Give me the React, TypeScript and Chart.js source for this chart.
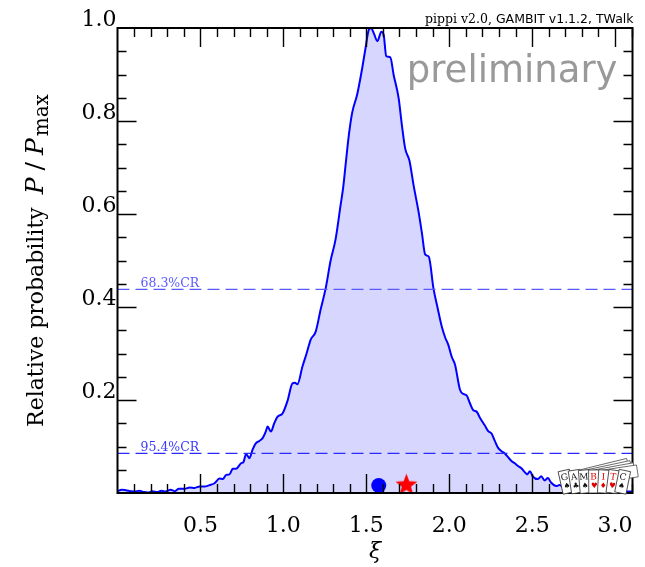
import React, { useEffect, useRef } from 'react';
import { Chart, registerables } from 'chart.js';
Chart.register(...registerables);

// ---- data ----
const XI = [
  0.000, 0.025, 0.050, 0.080, 0.105, 0.130, 0.160, 0.185, 0.210, 0.240,
  0.265, 0.290, 0.320, 0.345, 0.370, 0.405, 0.435, 0.465, 0.495, 0.525,
  0.555, 0.585, 0.615, 0.635, 0.655, 0.675, 0.695, 0.715, 0.745, 0.760,
  0.775, 0.795, 0.815, 0.835, 0.855, 0.875, 0.895, 0.905, 0.925, 0.945,
  0.965, 0.995, 1.025, 1.055, 1.070, 1.085, 1.115, 1.140, 1.165, 1.195,
  1.225, 1.255, 1.285, 1.315, 1.345, 1.360, 1.375, 1.395, 1.415, 1.445,
  1.475, 1.495, 1.515, 1.529, 1.545, 1.567, 1.591, 1.605, 1.620, 1.645,
  1.665, 1.695, 1.715, 1.735, 1.760, 1.785, 1.815, 1.835, 1.855, 1.877,
  1.905, 1.930, 1.955, 1.975, 1.995, 2.015, 2.035, 2.065, 2.085, 2.105,
  2.125, 2.145, 2.165, 2.185, 2.215, 2.235, 2.255, 2.275, 2.295, 2.315,
  2.335, 2.355, 2.375, 2.395, 2.415, 2.435, 2.455, 2.470, 2.487, 2.505,
  2.535, 2.555, 2.575, 2.595, 2.615, 2.645, 2.665, 2.695, 2.725, 2.760,
  2.800, 2.850, 2.900, 2.950, 3.000, 3.050, 3.105,
];
const PROB = [
  0.004, 0.007, 0.006, 0.004, 0.003, 0.005, 0.002, 0.001, 0.004, 0.002,
  0.005, 0.003, 0.007, 0.004, 0.009, 0.009, 0.012, 0.011, 0.014, 0.014,
  0.017, 0.021, 0.031, 0.030, 0.039, 0.040, 0.052, 0.052, 0.064, 0.067,
  0.084, 0.075, 0.094, 0.107, 0.112, 0.118, 0.133, 0.143, 0.132, 0.150,
  0.164, 0.171, 0.198, 0.236, 0.237, 0.234, 0.272, 0.300, 0.330, 0.347,
  0.395, 0.440, 0.500, 0.546, 0.619, 0.655, 0.705, 0.770, 0.818, 0.857,
  0.913, 0.956, 0.996, 1.000, 0.989, 0.972, 0.992, 0.985, 0.940, 0.937,
  0.899, 0.849, 0.790, 0.740, 0.715, 0.662, 0.605, 0.560, 0.513, 0.508,
  0.440, 0.398, 0.358, 0.335, 0.318, 0.293, 0.276, 0.222, 0.213, 0.210,
  0.193, 0.178, 0.175, 0.162, 0.145, 0.133, 0.128, 0.112, 0.097, 0.090,
  0.085, 0.077, 0.069, 0.064, 0.058, 0.053, 0.045, 0.040, 0.047, 0.035,
  0.030, 0.036, 0.027, 0.032, 0.022, 0.015, 0.017, 0.011, 0.011, 0.009,
  0.008, 0.007, 0.006, 0.005, 0.004, 0.003, 0.003,
];
const X_RANGE = [0, 3.105];
const Y_RANGE = [0, 1.0];
const X_TICK_LABELS = [0.5, 1.0, 1.5, 2.0, 2.5, 3.0];
const Y_TICK_LABELS = [0.2, 0.4, 0.6, 0.8, 1.0];
const CR_LEVELS = [0.438, 0.0854];
const CR_LABELS = ['68.3%CR', '95.4%CR'];
const POSTERIOR_MEAN = [1.575, 0.016];
const BEST_FIT = [1.742, 0.019];
const CARD_LETTERS = ['G', 'A', 'M', 'B', 'I', 'T', 'C'];
const CARD_SUITS = ['♠', '♣', '♠', '♥', '♦', '♥', '♠'];
const CARD_RED = [false, false, false, true, true, true, false];

const SERIF = '"DejaVu Serif", serif';
const SANS = '"DejaVu Sans", sans-serif';

function makeStar(r: number, color: string) {
  const c = document.createElement('canvas');
  const size = Math.ceil(r * 2 + 2);
  c.width = size;
  c.height = size;
  const ctx = c.getContext('2d')!;
  ctx.fillStyle = color;
  ctx.beginPath();
  for (let i = 0; i < 10; i++) {
    const rad = i % 2 === 0 ? r : r * 0.42;
    const a = -Math.PI / 2 + (i * Math.PI) / 5;
    const x = size / 2 + rad * Math.cos(a);
    const y = size / 2 + 1 + rad * Math.sin(a);
    if (i === 0) ctx.moveTo(x, y);
    else ctx.lineTo(x, y);
  }
  ctx.closePath();
  ctx.fill();
  return c;
}

function drawLogo(ctx: CanvasRenderingContext2D, left: number, bottom: number) {
  ctx.save();
  ctx.lineWidth = 0.8;
  // back fanned cards
  for (let k = 0; k < 4; k++) {
    ctx.save();
    ctx.translate(left + 42 + k * 3, bottom - 24 + k * 1.5);
    ctx.rotate(-0.24 + k * 0.03);
    ctx.fillStyle = '#ffffff';
    ctx.strokeStyle = '#555';
    ctx.beginPath();
    ctx.rect(-24, -5, 48, 12);
    ctx.fill();
    ctx.stroke();
    ctx.restore();
  }
  // front cards
  for (let i = 0; i < CARD_LETTERS.length; i++) {
    ctx.save();
    ctx.translate(left + 6 + i * 8.6, bottom);
    ctx.rotate(-0.22 + i * 0.07);
    ctx.fillStyle = '#ffffff';
    ctx.strokeStyle = '#333';
    ctx.beginPath();
    ctx.rect(-5.5, -23, 11.5, 23);
    ctx.fill();
    ctx.stroke();
    const col = CARD_RED[i] ? '#e00000' : '#111';
    ctx.fillStyle = col;
    ctx.textAlign = 'center';
    ctx.textBaseline = 'alphabetic';
    ctx.font = `9px ${SERIF}`;
    ctx.fillText(CARD_LETTERS[i], -0.5, -13.5);
    ctx.font = `7.5px ${SANS}`;
    ctx.fillText(CARD_SUITS[i], 0, -5);
    ctx.restore();
  }
  ctx.restore();
}

function drawYTitle(ctx: CanvasRenderingContext2D, baseX: number, cy: number) {
  const F = 22;
  const M = 25;
  const parts = [
    { t: 'Relative probability', f: `${F}px ${SERIF}`, dy: 0, pl: 0, pr: 13 },
    { t: 'P', f: `italic ${M}px ${SERIF}`, dy: 0, pl: 0, pr: 0 },
    { t: '/', f: `${M}px ${SERIF}`, dy: 0, pl: 7, pr: 7 },
    { t: 'P', f: `italic ${M}px ${SERIF}`, dy: 0, pl: 0, pr: 0 },
    { t: 'max', f: `20px ${SERIF}`, dy: 5, pl: 2, pr: 0 },
  ];
  ctx.save();
  let total = 0;
  const widths: number[] = [];
  for (const p of parts) {
    ctx.font = p.f;
    const w = ctx.measureText(p.t).width;
    widths.push(w);
    total += w + p.pl + p.pr;
  }
  ctx.translate(baseX, cy);
  ctx.rotate(-Math.PI / 2);
  ctx.fillStyle = '#000';
  ctx.textAlign = 'left';
  ctx.textBaseline = 'alphabetic';
  let x = -total / 2;
  parts.forEach((p, i) => {
    ctx.font = p.f;
    x += p.pl;
    ctx.fillText(p.t, x, p.dy);
    x += widths[i] + p.pr;
  });
  ctx.restore();
}

const near = (v: number, arr: number[]) => arr.some((a) => Math.abs(a - v) < 1e-6);

const decorPlugin = {
  id: 'decor',
  afterDatasetsDraw(chart: any) {
    const { ctx, chartArea, scales } = chart;
    const { left, right, top, bottom } = chartArea;
    const xs = scales.x;
    const ys = scales.y;
    ctx.save();
    // CR labels
    ctx.font = `12.5px ${SERIF}`;
    ctx.textAlign = 'left';
    ctx.textBaseline = 'alphabetic';
    CR_LEVELS.forEach((lv, i) => {
      ctx.fillStyle = i === 0 ? '#5a5aff' : '#3a3aff';
      ctx.fillText(CR_LABELS[i], left + 23, ys.getPixelForValue(lv) - 2.5);
    });
    // inward ticks
    ctx.strokeStyle = '#000';
    ctx.lineWidth = 1.4;
    ctx.beginPath();
    for (let i = 1; i / 10 < X_RANGE[1]; i++) {
      const px = Math.round(xs.getPixelForValue(i / 10)) + 0.5;
      const len = i % 5 === 0 ? 19 : 9;
      ctx.moveTo(px, bottom);
      ctx.lineTo(px, bottom - len);
      ctx.moveTo(px, top);
      ctx.lineTo(px, top + len);
    }
    for (let i = 1; i < 20; i++) {
      const py = Math.round(ys.getPixelForValue(i / 20)) + 0.5;
      const len = i % 4 === 0 ? 19 : 9;
      ctx.moveTo(left, py);
      ctx.lineTo(left + len, py);
      ctx.moveTo(right, py);
      ctx.lineTo(right - len, py);
    }
    ctx.stroke();
    ctx.lineWidth = 2;
    ctx.strokeRect(left, top, right - left, bottom - top);
    ctx.restore();
  },
  afterDraw(chart: any) {
    const { ctx, chartArea } = chart;
    const { left, right, top, bottom } = chartArea;
    ctx.save();
    drawLogo(ctx, right - 70, bottom);
    // preliminary
    ctx.fillStyle = '#999999';
    ctx.font = `37px ${SANS}`;
    ctx.textAlign = 'right';
    ctx.textBaseline = 'alphabetic';
    ctx.fillText('preliminary', right - 15, top + 54);
    // credit line
    ctx.fillStyle = '#000';
    ctx.font = `12.5px ${SANS}`;
    const sansPart = ' GAMBIT v1.1.2, TWalk';
    const sw = ctx.measureText(sansPart).width;
    ctx.fillText(sansPart, right + 1, top - 5);
    ctx.font = `12.5px ${SERIF}`;
    ctx.fillText('pippi v2.0,', right + 1 - sw, top - 5);
    // axis titles
    drawYTitle(ctx, 43, (top + bottom) / 2);
    ctx.font = `italic 22px ${SERIF}`;
    ctx.textAlign = 'center';
    ctx.fillText('ξ', (left + right) / 2, 558);
    ctx.restore();
  },
};

export default function App() {
  const ref = useRef<HTMLCanvasElement>(null);
  useEffect(() => {
    const canvas = ref.current!;
    const star = makeStar(11.5, '#ff0000');
    const curve = XI.map((x, i) => ({ x, y: PROB[i] }));
    const chart = new Chart(canvas, {
      type: 'line',
      data: {
        datasets: [
          {
            type: 'scatter',
            label: 'mean',
            data: [{ x: POSTERIOR_MEAN[0], y: POSTERIOR_MEAN[1] }],
            pointStyle: 'circle',
            pointRadius: 7.5,
            backgroundColor: '#0000ff',
            borderWidth: 0,
            clip: false,
            order: 0,
          } as any,
          {
            type: 'scatter',
            label: 'best fit',
            data: [{ x: BEST_FIT[0], y: BEST_FIT[1] }],
            pointStyle: star,
            pointRadius: 11.5,
            clip: false,
            order: 0,
          } as any,
          ...CR_LEVELS.map((lv, i) => ({
            label: CR_LABELS[i],
            data: [
              { x: X_RANGE[0], y: lv },
              { x: X_RANGE[1], y: lv },
            ],
            borderColor: i === 0 ? '#5a5aff' : '#2a2aff',
            borderWidth: 1.3,
            borderDash: [12, 6],
            pointRadius: 0,
            fill: false,
            order: 1,
          })),
          {
            label: 'profile',
            data: curve,
            borderColor: '#0000ff',
            borderWidth: 2,
            backgroundColor: 'rgba(0,0,255,0.16)',
            fill: 'origin',
            pointRadius: 0,
            cubicInterpolationMode: 'monotone',
            order: 2,
          },
        ],
      },
      options: {
        animation: false,
        responsive: false,
        maintainAspectRatio: false,
        events: [],
        layout: { padding: { top: 28, right: 10, left: 0, bottom: 0 } },
        plugins: { legend: { display: false }, tooltip: { enabled: false } },
        scales: {
          x: {
            type: 'linear',
            min: X_RANGE[0],
            max: X_RANGE[1],
            grid: { display: false, drawTicks: false },
            border: { display: false },
            ticks: {
              stepSize: 0.1,
              autoSkip: false,
              maxRotation: 0,
              minRotation: 0,
              padding: 20,
              color: '#000',
              font: { family: 'DejaVu Serif', size: 22 },
              callback: (v: any) => (near(Number(v), X_TICK_LABELS) ? Number(v).toFixed(1) : ''),
            },
            afterFit: (s: any) => {
              s.height = 74;
              s.paddingLeft = 0;
              s.paddingRight = 0;
            },
          },
          y: {
            type: 'linear',
            min: Y_RANGE[0],
            max: Y_RANGE[1],
            grid: { display: false, drawTicks: false },
            border: { display: false },
            ticks: {
              stepSize: 0.05,
              autoSkip: false,
              padding: 1,
              labelOffset: -8,
              color: '#000',
              font: { family: 'DejaVu Serif', size: 22 },
              callback: (v: any) => (near(Number(v), Y_TICK_LABELS) ? Number(v).toFixed(1) : ''),
            },
            afterFit: (s: any) => {
              s.width = 117.5;
              s.paddingTop = 0;
              s.paddingBottom = 0;
            },
          },
        },
      } as any,
      plugins: [decorPlugin],
    });
    return () => chart.destroy();
  }, []);
  return (
    <div style={{ position: 'absolute', left: 0, top: 0, width: 645, height: 567, background: '#fff' }}>
      <canvas ref={ref} width={645} height={567} style={{ display: 'block' }} />
    </div>
  );
}
